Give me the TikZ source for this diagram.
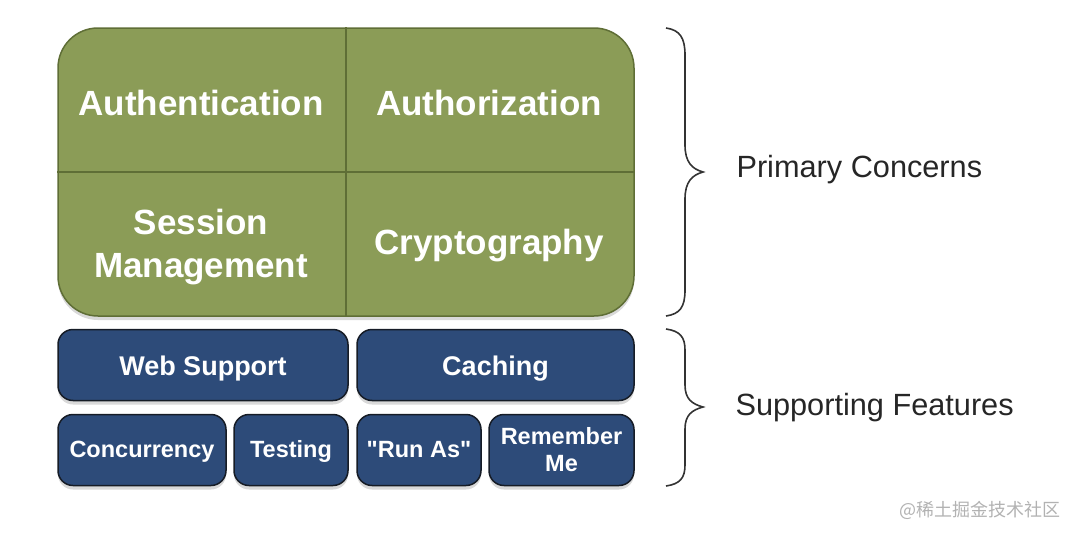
\documentclass[tikz,border=0pt]{standalone}
\usepackage{fontspec}
\setmainfont{Liberation Sans}[Ligatures=TeXOff]
\newfontfamily\cjkfont{Noto Sans CJK SC}
\usetikzlibrary{shadows}
\definecolor{concerngreen}{HTML}{8B9C57}
\definecolor{concernedge}{HTML}{5F6E36}
\definecolor{featureblue}{HTML}{2D4B79}
\definecolor{featureedge}{HTML}{161C26}
\tikzset{
	concernbox/.style = {draw = concernedge, line width = 1.5pt, fill =
		concerngreen, rounded corners = 40pt, minimum width = 576pt,
		minimum height = 288pt, drop shadow = {opacity = 0.3, shadow
		xshift = 0pt, shadow yshift = -4pt}},
	featurebox/.style = {draw = featureedge, line width = 1.5pt, fill =
		featureblue, rounded corners = 15pt, minimum height = 71pt, text
		= white, align = center, drop shadow = {opacity = 0.3, shadow
		xshift = 0pt, shadow yshift = -4pt}},
	concerntext/.style = {text = white, align = center, font =
		\bfseries\fontsize{35}{43}\selectfont},
	bigfeature/.style = {featurebox, text height = 21pt, text depth = 0pt,
		font = \bfseries\fontsize{27}{30}\selectfont},
	smallfeature/.style = {featurebox, font = \bfseries\fontsize{23.5}{27}\selectfont},
	oneline/.style = {text height = 15pt, text depth = 0pt},
	bracepath/.style = {line width = 1.6pt, black!80},
	sidetext/.style = {anchor = west, text = black!85, font =
		\fontsize{30.7}{36}\selectfont}
}
\begin{document}
\begin{tikzpicture}[x = 1pt, y = -1pt]
\useasboundingbox (0,0) rectangle (1080,538);
% primary concerns
\node [concernbox] (primary) at (346,172) {};
\draw [concernedge, line width = 1.2pt] (primary.north) -- (primary.south);
\draw [concernedge, line width = 1.2pt] (primary.west) -- (primary.east);
\node [concerntext] (authn) at (201,103) {Authentication};
\node [concerntext] (authz) at (489,103) {Authorization};
\node [concerntext] (session) at (201,247) {Session\\Management};
\node [concerntext] (crypto) at (489,246) {Cryptography};
% supporting features
\node [bigfeature, minimum width = 290pt] (web) at (203,365) {Web Support};
\node [bigfeature, minimum width = 277pt] (caching) at (495.5,365) {Caching};
\node [smallfeature, oneline, minimum width = 168pt] (concurrency) at (142,450) {Concurrency};
\node [smallfeature, oneline, minimum width = 114pt] (testing) at (291,450) {Testing};
\node [smallfeature, oneline, minimum width = 124pt] (runas) at (419,450) {"Run As"};
\node [smallfeature, minimum width = 145pt] (remember) at (561.5,450) {Remember\\Me};
% braces
\draw [bracepath] (666,28) .. controls (680,30) and (685,38) .. (685,55)
	-- (685,145) .. controls (685,162) and (692,169) .. (703,172)
	.. controls (692,175) and (685,182) .. (685,199)
	-- (685,290) .. controls (685,307) and (680,314) .. (666,316);
\draw [bracepath] (666,329) .. controls (680,331) and (685,337) .. (685,350)
	-- (685,385) .. controls (685,399) and (692,404) .. (703,407)
	.. controls (692,410) and (685,415) .. (685,429)
	-- (685,465) .. controls (685,478) and (680,484) .. (666,486);
\node [sidetext] (primarylabel) at (733,170) {Primary Concerns};
\node [sidetext] (supportlabel) at (732,408) {Supporting Features};
\node [anchor = east, text = black!30, font = \cjkfont\fontsize{18}{20}\selectfont]
	(mark) at (1064,510) {@稀土掘金技术社区};
\end{tikzpicture}
\end{document}
